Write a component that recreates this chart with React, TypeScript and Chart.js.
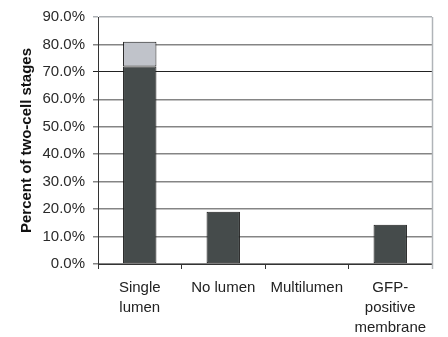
import React, { useEffect, useRef } from "react";
import { Chart, registerables } from "chart.js";

Chart.register(...registerables);

const categories: (string | string[])[] = [
  ["Single", "lumen"],
  "No lumen",
  "Multilumen",
  ["GFP-", "positive", "membrane"],
];
const darkSeries = [72.0, 19.0, 0, 14.3];
const lightSeries = [9.0, 0, 0, 0];
const yTicks = [0, 10, 20, 30, 40, 50, 60, 70, 80, 90];

const FONT = "Liberation Sans, Arial, sans-serif";

const rightBorder = {
  id: "rightBorder",
  afterDraw(chart: any) {
    const { ctx, chartArea } = chart;
    ctx.save();
    ctx.strokeStyle = "#b0b4b8";
    ctx.lineWidth = 1.5;
    ctx.beginPath();
    ctx.moveTo(Math.round(chartArea.right) + 0.5, chartArea.top);
    ctx.lineTo(Math.round(chartArea.right) + 0.5, chartArea.bottom + 5);
    ctx.stroke();
    ctx.restore();
  },
};

const zeroless = (c: any) => (c.raw ? 1 : 0);

export default function App() {
  const ref = useRef<HTMLCanvasElement | null>(null);
  useEffect(() => {
    document.body.style.margin = "0";
    const chart = new Chart(ref.current as HTMLCanvasElement, {
      type: "bar",
      data: {
        labels: categories,
        datasets: [
          {
            data: darkSeries,
            backgroundColor: "#454b4b",
            borderColor: "#1a1a1a",
            borderWidth: zeroless,
            borderSkipped: false,
          },
          {
            data: lightSeries,
            backgroundColor: "#c0c3ca",
            borderColor: "#1a1a1a",
            borderWidth: zeroless,
            borderSkipped: false,
          },
        ],
      },
      options: {
        animation: false,
        responsive: false,
        maintainAspectRatio: false,
        layout: { padding: { top: 14, right: 16, left: 0, bottom: 0 } },
        plugins: { legend: { display: false }, tooltip: { enabled: false } },
        datasets: { bar: { categoryPercentage: 1, barPercentage: 0.4 } },
        scales: {
          x: {
            stacked: true,
            offset: true,
            grid: {
              offset: true,
              drawOnChartArea: false,
              drawTicks: true,
              tickLength: 5,
              color: "#333",
            },
            border: { display: true, color: "#333" },
            ticks: {
              maxRotation: 0,
              autoSkip: false,
              padding: 9,
              color: "#222",
              font: { family: FONT, size: 15, lineHeight: 1.333 },
            },
            afterFit: (s: any) => {
              s.height = 73;
            },
          },
          y: {
            stacked: true,
            min: 0,
            max: 90,
            afterBuildTicks: (s: any) => {
              s.ticks = yTicks.map((v) => ({ value: v }));
            },
            grid: {
              color: (c: any) =>
                c.tick && c.tick.value === 70
                  ? "#222"
                  : c.tick && c.tick.value === 90
                  ? "#aeb2b6"
                  : "#858585",
              lineWidth: (c: any) => (c.tick && c.tick.value === 70 ? 1 : 1.5),
              drawTicks: true,
              tickLength: 5,
            },
            border: { display: true, color: "#333" },
            ticks: {
              padding: 8,
              color: "#2a2a2a",
              font: { family: FONT, size: 15 },
              callback: (v: any) => Number(v).toFixed(1) + "%",
            },
            title: {
              display: true,
              text: "Percent of two-cell stages",
              color: "#111",
              font: { family: FONT, size: 15, weight: "bold" },
              padding: { top: 18, bottom: 0 },
            },
            afterFit: (s: any) => {
              s.width = 98;
            },
          },
        },
      },
      plugins: [rightBorder],
    } as any);
    return () => chart.destroy();
  }, []);
  return (
    <div style={{ position: "absolute", left: 0, top: 0, width: 448, height: 337, background: "#fff" }}>
      <canvas ref={ref} width={448} height={337} style={{ width: 448, height: 337 }} />
    </div>
  );
}
